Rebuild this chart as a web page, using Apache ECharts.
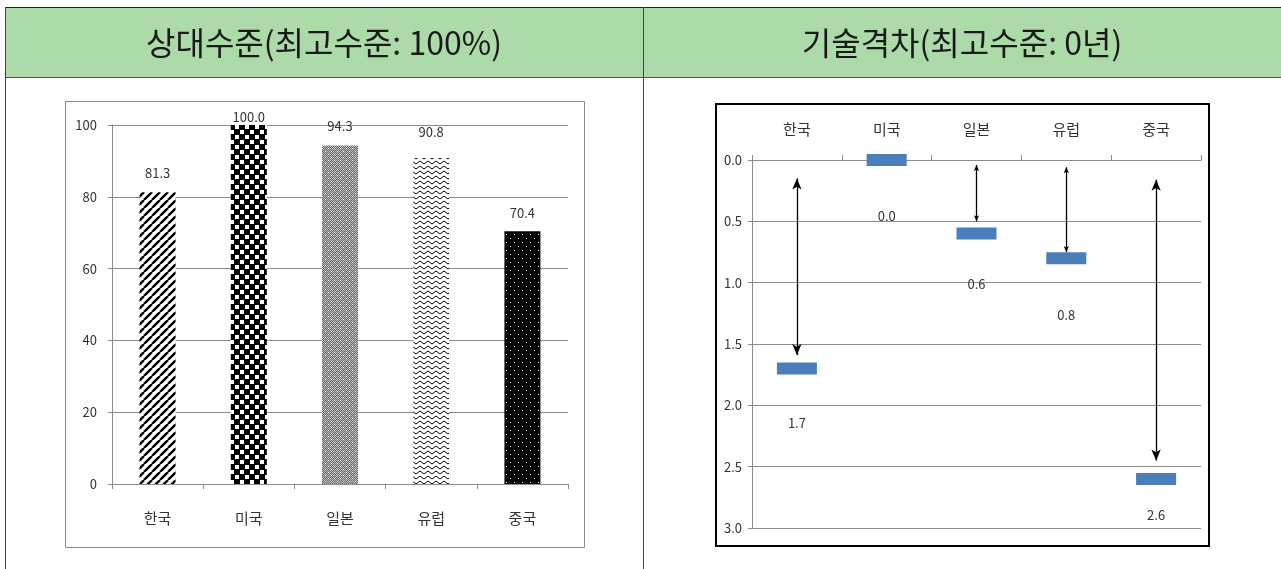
<!DOCTYPE html>
<html>
<head>
<meta charset="utf-8">
<script src="https://cdn.jsdelivr.net/npm/echarts@6/dist/echarts.min.js"></script>
<style>
  html, body { margin: 0; padding: 0; background: #fff; }
  #main { width: 1281px; height: 569px; }
</style>
</head>
<body>
<div id="main"></div>
<script>
// ---- data ----
const categories = ['한국', '미국', '일본', '유럽', '중국'];
const relativeLevel = [81.3, 100.0, 94.3, 90.8, 70.4];   // % of top level
const techGap = [1.7, 0.0, 0.6, 0.8, 2.6];               // years behind top level
const gapArrowFrom = [0.15, null, 0.04, 0.06, 0.16];      // arrow start (years)
const gapArrowTo = [1.59, null, 0.50, 0.75, 2.45];        // arrow end (years)
const headers = ['상대수준(최고수준: 100%)', '기술격차(최고수준: 0년)'];

// ---- styling helpers ----
const FONT = '"Noto Sans CJK KR", "Noto Sans", sans-serif';
const GRID_GRAY = '#8c8c8c';
const TEXT = '#333';
const levelLabelLift = [13, 1, 13, 19, 12];
const gapLabelGap = [42, 44, 38, 44, 24];
const bigArrow = [0, 4];

function tile(w, h, draw) {
  const c = document.createElement('canvas');
  c.width = w; c.height = h;
  const g = c.getContext('2d');
  draw(g, w, h);
  return { image: c, repeat: 'repeat' };
}

// Fill patterns, one per country
const patterns = [
  // diagonal stripes
  tile(8, 8, (g, w, h) => {
    g.fillStyle = '#fff'; g.fillRect(0, 0, w, h);
    g.strokeStyle = '#000'; g.lineWidth = 2.4;
    for (let o = -8; o <= 8; o += 8) {
      g.beginPath(); g.moveTo(o, h); g.lineTo(o + w, 0); g.stroke();
    }
  }),
  // checkerboard
  tile(10, 10, (g) => {
    g.fillStyle = '#000'; g.fillRect(0, 0, 10, 10);
    g.fillStyle = '#fff'; g.fillRect(0, 0, 4, 4); g.fillRect(5, 5, 4, 4);
  }),
  // gray stipple with dots
  tile(6, 6, (g) => {
    g.fillStyle = '#6e6e6e'; g.fillRect(0, 0, 6, 6);
    g.fillStyle = '#b8b8b8';
    for (let y = 0; y < 6; y++) for (let x = (y % 2); x < 6; x += 2) g.fillRect(x, y, 1, 1);
    g.fillStyle = '#fff'; g.fillRect(1, 1, 1, 1); g.fillRect(4, 4, 1, 1);
  }),
  // horizontal zigzag
  tile(8, 5, (g) => {
    g.fillStyle = '#fff'; g.fillRect(0, 0, 8, 5);
    g.strokeStyle = '#000'; g.lineWidth = 1;
    g.beginPath(); g.moveTo(0, 4); g.lineTo(4, 1); g.lineTo(8, 4); g.stroke();
  }),
  // black with white dots
  tile(8, 8, (g) => {
    g.fillStyle = '#000'; g.fillRect(0, 0, 8, 8);
    g.fillStyle = '#fff'; g.fillRect(2, 2, 1, 1); g.fillRect(6, 6, 1, 1);
  })
];

// ---- options ----
const levelData = relativeLevel.map((v, i) => ({
  value: v,
  itemStyle: { color: patterns[i] },
  label: { distance: levelLabelLift[i] }
}));

const gapData = techGap.map((v, i) => ({
  value: v,
  label: { distance: gapLabelGap[i] }
}));

const arrowData = [];
categories.forEach((c, i) => {
  if (gapArrowFrom[i] == null) return;
  const big = bigArrow.includes(i);
  const size = big ? [7, 11] : [4, 6];
  arrowData.push([
    { coord: [i, gapArrowFrom[i]], symbolSize: size },
    { coord: [i, gapArrowTo[i]], symbolSize: size }
  ]);
});

const chart = echarts.init(document.getElementById('main'), null, { renderer: 'canvas' });

chart.setOption({
  animation: false,
  textStyle: { fontFamily: FONT },
  graphic: [
    { type: 'rect', shape: { x: 5, y: 7, width: 1276, height: 70 }, style: { fill: '#acdaa8' }, z: -10 },
    { type: 'line', shape: { x1: 5, y1: 7.5, x2: 1281, y2: 7.5 }, style: { stroke: '#222', lineWidth: 1 } },
    { type: 'line', shape: { x1: 5, y1: 77.5, x2: 1281, y2: 77.5 }, style: { stroke: '#4a5a48', lineWidth: 1 } },
    { type: 'line', shape: { x1: 5.5, y1: 7, x2: 5.5, y2: 569 }, style: { stroke: '#444', lineWidth: 1 } },
    { type: 'line', shape: { x1: 643.5, y1: 7, x2: 643.5, y2: 569 }, style: { stroke: '#444', lineWidth: 1 } },
    { type: 'rect', shape: { x: 65.5, y: 101.5, width: 519, height: 446 }, style: { fill: null, stroke: '#8a8a8a', lineWidth: 1 } },
    { type: 'rect', shape: { x: 716, y: 104, width: 493, height: 442 }, style: { fill: null, stroke: '#000', lineWidth: 2 } },
    {
      type: 'text', x: 324, y: 43,
      style: { text: headers[0], font: '32px ' + FONT, fill: '#1a1a1a', align: 'center', verticalAlign: 'middle' }
    },
    {
      type: 'text', x: 962, y: 43,
      style: { text: headers[1], font: '32px ' + FONT, fill: '#1a1a1a', align: 'center', verticalAlign: 'middle' }
    }
  ],
  grid: [
    { left: 112, top: 125, width: 456, height: 359 },
    { left: 752, top: 160, width: 449, height: 368 }
  ],
  xAxis: [
    {
      gridIndex: 0, type: 'category', data: categories,
      axisLine: { lineStyle: { color: GRID_GRAY } },
      axisTick: { show: true, length: 5, lineStyle: { color: GRID_GRAY } },
      axisLabel: { margin: 27, fontSize: 15, color: TEXT }
    },
    {
      gridIndex: 1, type: 'category', data: categories, position: 'top',
      axisLine: { lineStyle: { color: GRID_GRAY } },
      axisTick: { show: true, length: 5, lineStyle: { color: GRID_GRAY } },
      axisLabel: { margin: 23, fontSize: 15, color: TEXT }
    }
  ],
  yAxis: [
    {
      gridIndex: 0, type: 'value', min: 0, max: 100, interval: 20,
      axisLine: { show: true, lineStyle: { color: GRID_GRAY } },
      axisTick: { show: true, length: 4, lineStyle: { color: GRID_GRAY } },
      axisLabel: { margin: 15, fontSize: 13, color: TEXT },
      splitLine: { lineStyle: { color: GRID_GRAY } }
    },
    {
      gridIndex: 1, type: 'value', min: 0, max: 3, interval: 0.5, inverse: true,
      axisLine: { show: true, lineStyle: { color: GRID_GRAY } },
      axisTick: { show: true, length: 4, lineStyle: { color: GRID_GRAY } },
      axisLabel: { margin: 10, fontSize: 13, color: TEXT, formatter: v => v.toFixed(1) },
      splitLine: { lineStyle: { color: GRID_GRAY } }
    }
  ],
  series: [
    {
      type: 'bar', xAxisIndex: 0, yAxisIndex: 0, barWidth: 36,
      data: levelData,
      label: { show: true, position: 'top', fontSize: 13, color: TEXT, formatter: p => p.value.toFixed(1) }
    },
    {
      type: 'scatter', xAxisIndex: 1, yAxisIndex: 1,
      symbol: 'rect', symbolSize: [40, 12],
      itemStyle: { color: '#4a7ebb', opacity: 1 },
      data: gapData,
      label: { show: true, position: 'bottom', fontSize: 13, color: TEXT, formatter: p => p.value.toFixed(1) },
      markLine: {
        silent: true,
        symbol: ['arrow', 'arrow'],
        label: { show: false },
        lineStyle: { color: '#000', width: 1.3, type: 'solid' },
        emphasis: { disabled: true },
        data: arrowData
      }
    }
  ]
});
</script>
</body>
</html>
